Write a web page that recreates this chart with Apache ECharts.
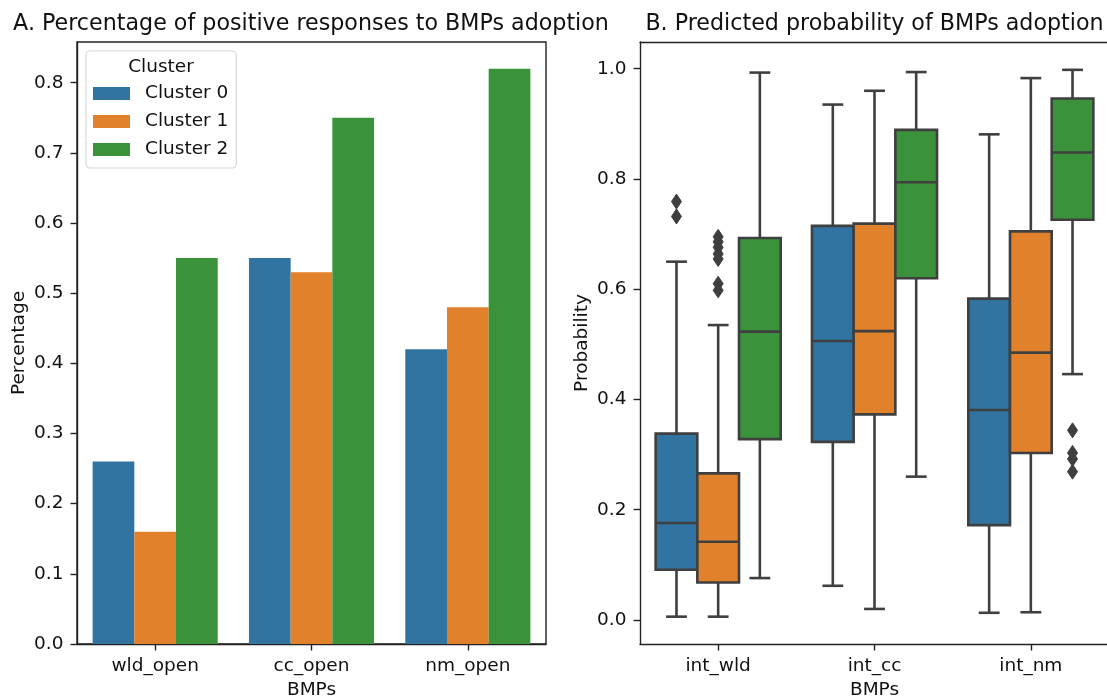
<!DOCTYPE html>
<html>
<head>
<meta charset="utf-8">
<script src="https://cdn.jsdelivr.net/npm/echarts@6/dist/echarts.min.js"></script>
<style>
  html, body { margin: 0; padding: 0; background: #ffffff; }
  #chart { width: 1107px; height: 698px; }
</style>
</head>
<body>
<div id="chart"></div>
<script>
// ---- data ----
const clusterNames = ['Cluster 0', 'Cluster 1', 'Cluster 2'];

// Panel A: share of positive responses per BMP
const barCategories = ['wld_open', 'cc_open', 'nm_open'];
const pctCluster0 = [0.26, 0.55, 0.42];
const pctCluster1 = [0.16, 0.53, 0.48];
const pctCluster2 = [0.55, 0.75, 0.82];
const pctTicks = [0, 0.1, 0.2, 0.3, 0.4, 0.5, 0.6, 0.7, 0.8];

// Panel B: predicted probability, [min whisker, Q1, median, Q3, max whisker] per BMP
const boxCategories = ['int_wld', 'int_cc', 'int_nm'];
const boxCluster0 = [
  [0.006, 0.091, 0.176, 0.338, 0.650],
  [0.062, 0.323, 0.506, 0.715, 0.935],
  [0.013, 0.172, 0.381, 0.583, 0.881]
];
const boxCluster1 = [
  [0.006, 0.068, 0.142, 0.266, 0.535],
  [0.020, 0.373, 0.524, 0.719, 0.960],
  [0.014, 0.303, 0.485, 0.705, 0.983]
];
const boxCluster2 = [
  [0.076, 0.328, 0.523, 0.693, 0.993],
  [0.260, 0.620, 0.794, 0.889, 0.994],
  [0.446, 0.726, 0.848, 0.946, 0.998]
];
// points beyond the whiskers, per BMP
const outlierCluster0 = [[0.759, 0.732], [], []];
const outlierCluster1 = [[0.695, 0.686, 0.676, 0.664, 0.655, 0.610, 0.598], [], []];
const outlierCluster2 = [[], [], [0.344, 0.303, 0.292, 0.269]];
const probTicks = [0, 0.2, 0.4, 0.6, 0.8, 1.0];

// ---- styling ----
const FONT = '"DejaVu Sans", "Liberation Sans", sans-serif';
const colors = ['#3274a1', '#e1812c', '#3a923a'];
const ink = '#111111';
const spine = '#222222';
const boxLine = '#3f3f3f';
const tickFont = 18.5;

const pctValues = [pctCluster0, pctCluster1, pctCluster2];
const boxValues = [boxCluster0, boxCluster1, boxCluster2];
const outlierValues = [outlierCluster0, outlierCluster1, outlierCluster2];

// boxes of one cluster, shifted inside the category band so the three sit side by side
function boxRenderer(k) {
  return function (params, api) {
    const cat = api.value(0);
    const band = api.size([1, 0])[0];
    const w = band * 0.8 / 3;
    const off = (k - 1) * w;
    const pLo = api.coord([cat, api.value(1)]);
    const pQ1 = api.coord([cat, api.value(2)]);
    const pMed = api.coord([cat, api.value(3)]);
    const pQ3 = api.coord([cat, api.value(4)]);
    const pHi = api.coord([cat, api.value(5)]);
    const x = pLo[0] + off;
    const cap = w / 4;
    const lineStyle = { stroke: boxLine, lineWidth: 2.6, fill: null };
    return {
      type: 'group',
      children: [
        { type: 'line', shape: { x1: x, y1: pHi[1], x2: x, y2: pQ3[1] }, style: lineStyle },
        { type: 'line', shape: { x1: x, y1: pQ1[1], x2: x, y2: pLo[1] }, style: lineStyle },
        { type: 'line', shape: { x1: x - cap, y1: pHi[1], x2: x + cap, y2: pHi[1] }, style: lineStyle },
        { type: 'line', shape: { x1: x - cap, y1: pLo[1], x2: x + cap, y2: pLo[1] }, style: lineStyle },
        {
          type: 'rect',
          shape: { x: x - w / 2, y: pQ3[1], width: w, height: pQ1[1] - pQ3[1] },
          style: { fill: colors[k], stroke: boxLine, lineWidth: 2.6 }
        },
        { type: 'line', shape: { x1: x - w / 2, y1: pMed[1], x2: x + w / 2, y2: pMed[1] }, style: lineStyle }
      ]
    };
  };
}

function outlierRenderer(k) {
  return function (params, api) {
    const band = api.size([1, 0])[0];
    const w = band * 0.8 / 3;
    const p = api.coord([api.value(0), api.value(1)]);
    const x = p[0] + (k - 1) * w;
    const y = p[1];
    return {
      type: 'polygon',
      shape: { points: [[x, y - 7.5], [x + 5, y], [x, y + 7.5], [x - 5, y]] },
      style: { fill: boxLine, stroke: boxLine, lineWidth: 1 }
    };
  };
}

const series = [];
clusterNames.forEach(function (name, k) {
  series.push({
    name: name,
    type: 'bar',
    xAxisIndex: 0,
    yAxisIndex: 0,
    data: pctValues[k],
    barGap: '0%',
    barCategoryGap: '20%',
    itemStyle: { color: colors[k] }
  });
});
clusterNames.forEach(function (name, k) {
  series.push({
    name: name,
    type: 'custom',
    xAxisIndex: 1,
    yAxisIndex: 1,
    renderItem: boxRenderer(k),
    encode: { x: 0, y: [1, 2, 3, 4, 5] },
    data: boxValues[k].map(function (b, i) { return [i].concat(b); }),
    itemStyle: { color: colors[k] },
    z: 2
  });
  const pts = [];
  outlierValues[k].forEach(function (list, i) {
    list.forEach(function (v) { pts.push([i, v]); });
  });
  series.push({
    name: name,
    type: 'custom',
    xAxisIndex: 1,
    yAxisIndex: 1,
    renderItem: outlierRenderer(k),
    encode: { x: 0, y: 1 },
    data: pts,
    itemStyle: { color: colors[k] },
    z: 3
  });
});

function categoryAxis(gridIndex, data) {
  return {
    type: 'category',
    gridIndex: gridIndex,
    data: data,
    boundaryGap: true,
    axisLine: { show: true, onZero: false, lineStyle: { color: spine, width: 1.4 } },
    axisTick: { show: true, alignWithLabel: true, length: 6.5, lineStyle: { color: spine, width: 1.4 } },
    axisLabel: { margin: 13, fontSize: tickFont, color: ink, fontFamily: FONT },
    splitLine: { show: false },
    name: 'BMPs',
    nameLocation: 'middle',
    nameGap: 36,
    nameTextStyle: { fontSize: tickFont, color: ink, fontFamily: FONT }
  };
}

// plain frame line along the top edge of a panel
function topSpine(gridIndex, data) {
  return {
    type: 'category',
    gridIndex: gridIndex,
    position: 'top',
    data: data,
    axisLine: { show: true, onZero: false, lineStyle: { color: spine, width: 1.4 } },
    axisTick: { show: false },
    axisLabel: { show: false },
    splitLine: { show: false }
  };
}

function valueAxis(gridIndex, min, max, ticks, name, nameGap) {
  return {
    type: 'value',
    gridIndex: gridIndex,
    min: min,
    max: max,
    axisLine: { show: true, onZero: false, lineStyle: { color: spine, width: 1.4 } },
    axisTick: { show: true, customValues: ticks, length: 6.5, lineStyle: { color: spine, width: 1.4 } },
    axisLabel: {
      customValues: ticks,
      formatter: function (v) { return Number(v).toFixed(1); },
      margin: 13.5,
      fontSize: tickFont,
      color: ink,
      fontFamily: FONT
    },
    splitLine: { show: false },
    name: name,
    nameLocation: 'middle',
    nameGap: nameGap,
    nameRotate: 90,
    nameTextStyle: { fontSize: tickFont, color: ink, fontFamily: FONT }
  };
}

const option = {
  animation: false,
  backgroundColor: '#ffffff',
  textStyle: { fontFamily: FONT },
  grid: [
    {
      left: 77, top: 42, width: 469, height: 602,
      show: true, borderColor: spine, borderWidth: 1.4, backgroundColor: 'transparent',
      containLabel: false, outerBoundsMode: 'none'
    },
    {
      left: 640, top: 42, width: 469, height: 602,
      show: false, containLabel: false, outerBoundsMode: 'none'
    }
  ],
  xAxis: [categoryAxis(0, barCategories), categoryAxis(1, boxCategories), topSpine(1, boxCategories)],
  yAxis: [
    valueAxis(0, 0, 0.858, pctTicks, 'Percentage', 48),
    valueAxis(1, -0.0436, 1.0485, probTicks, 'Probability', 48)
  ],
  legend: {
    data: clusterNames,
    orient: 'vertical',
    left: 86,
    top: 51,
    padding: [33, 8, 9, 7],
    itemWidth: 37,
    itemHeight: 13,
    itemGap: 9,
    icon: 'rect',
    selectedMode: false,
    backgroundColor: '#ffffff',
    borderColor: '#d6d6d6',
    borderWidth: 1.2,
    borderRadius: 4,
    textStyle: { fontSize: tickFont, color: ink, fontFamily: FONT, lineHeight: 18, padding: [0, 0, 0, 10] }
  },
  graphic: [
    {
      type: 'text', x: 311, y: 24, z: 100,
      style: { text: 'A. Percentage of positive responses to BMPs adoption', font: '22.2px ' + FONT, fill: ink, align: 'center', verticalAlign: 'middle' }
    },
    {
      type: 'text', x: 874.5, y: 24, z: 100,
      style: { text: 'B. Predicted probability of BMPs adoption', font: '22.2px ' + FONT, fill: ink, align: 'center', verticalAlign: 'middle' }
    },
    {
      type: 'text', x: 161, y: 67, z: 100,
      style: { text: 'Cluster', font: tickFont + 'px ' + FONT, fill: ink, align: 'center', verticalAlign: 'middle' }
    }
  ],
  series: series
};

const chart = echarts.init(document.getElementById('chart'), null, { renderer: 'canvas' });
chart.setOption(option);
</script>
</body>
</html>
